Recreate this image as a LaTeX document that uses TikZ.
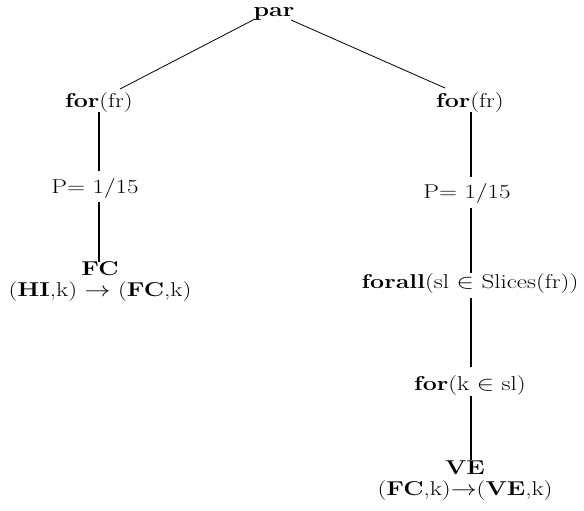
\documentclass[tikz,border=0pt]{standalone}
\tikzset{
  lbl/.style={anchor=base, inner sep=0pt, font=\fontsize{20}{21}\selectfont, xscale=1.25, transform shape},
  leaf/.style={lbl, anchor=north, align=center},
  edge/.style={draw=black, line width=1.3pt},
  slant/.style={draw=black, line width=0.8pt},
}
\begin{document}
\begin{tikzpicture}[x=1pt,y=-1pt]
\useasboundingbox (0,0) rectangle (584,511);
\node[lbl] (par) at (274,17) {\textbf{par}};
\node[lbl] (lfor) at (99,107) {\textbf{for}(fr)};
\node[lbl] (lp) at (95,193) {P= 1/15};
\node[leaf] (fc) at (100,261) {\textbf{FC}\\(\textbf{HI},k) $\rightarrow$ (\textbf{FC},k)};
\node[lbl] (rfor) at (470,107) {\textbf{for}(fr)};
\node[lbl] (rp) at (467,198) {P= 1/15};
\node[lbl] (fa) at (470,288) {\textbf{forall}(sl $\in$ Slices(fr))};
\node[lbl] (fk) at (470,390) {\textbf{for}(k $\in$ sl)};
\node[leaf] (ve) at (465,461) {\textbf{VE}\\(\textbf{FC},k)$\rightarrow$(\textbf{VE},k)};
\draw[slant] ([shift={(-19,2)}]par.base) -- ([shift={(21,-18)}]lfor.base);
\draw[slant] ([shift={(17,3)}]par.base) -- ([shift={(-25,-19)}]rfor.base);
\draw[edge] ([shift={(0,5)}]lfor.base) -- ([shift={(4,-22)}]lp.base);
\draw[edge] ([shift={(4,9)}]lp.base) -- ([shift={(-1,1)}]fc.north);
\draw[edge] ([shift={(1,5)}]rfor.base) -- ([shift={(4,-21)}]rp.base);
\draw[edge] ([shift={(4,10)}]rp.base) -- ([shift={(1,-15)}]fa.base);
\draw[edge] ([shift={(1,10)}]fa.base) -- ([shift={(1,-23)}]fk.base);
\draw[edge] ([shift={(1,6)}]fk.base) -- ([shift={(6,-1)}]ve.north);
\end{tikzpicture}
\end{document}
